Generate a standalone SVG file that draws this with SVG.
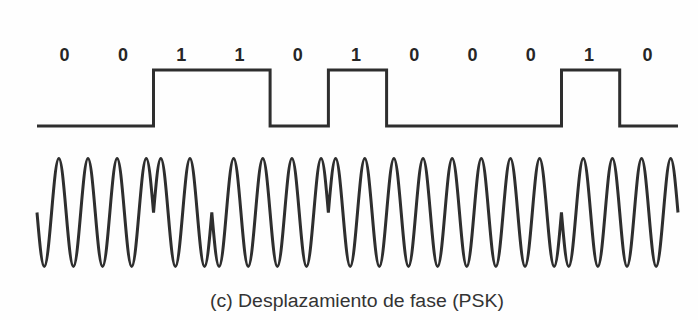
<svg xmlns="http://www.w3.org/2000/svg" width="698" height="320" viewBox="0 0 698 320">
  <style>
    .bit { font-family: "Liberation Sans", Arial, sans-serif; font-size: 18px; font-weight: bold; fill: #262626; text-anchor: middle; }
    .caption { font-family: "Liberation Sans", Arial, sans-serif; font-size: 18px; fill: #333333; }
    .trace { fill: none; stroke: #2e2e2e; stroke-linejoin: miter; stroke-linecap: butt; }
  </style>
  <rect width="698" height="320" fill="#fefefe"/>

  <!-- bit values, one per bit cell (cell width 58.27, first cell starts at x=37) -->
  <g id="bit-labels">
    <text class="bit" x="64.6" y="61">0</text>
    <text class="bit" x="122.9" y="61">0</text>
    <text class="bit" x="181.2" y="61">1</text>
    <text class="bit" x="239.5" y="61">1</text>
    <text class="bit" x="297.7" y="61">0</text>
    <text class="bit" x="356" y="61">1</text>
    <text class="bit" x="414.3" y="61">0</text>
    <text class="bit" x="472.5" y="61">0</text>
    <text class="bit" x="530.8" y="61">0</text>
    <text class="bit" x="589.1" y="61">1</text>
    <text class="bit" x="647.4" y="61">0</text>
  </g>

  <!-- binary data as a square wave -->
  <g id="data-signal">
    <path class="trace" stroke-width="3" d="M37,126 H153.5 V70 H270.1 V126 H328.4 V70 H386.6 V126 H561.5 V70 H619.7 V126 H678"/>
  </g>

  <!-- carrier: two cycles per bit, phase inverted at the start of every 1 bit.
       Each bit is four half-cycle humps built from quarter-wave cubics. -->
  <g id="psk-signal">
    <path class="trace" stroke-width="3" d="M37,212.5
      c2.375,27.66 4.648,54 7.284,54 c2.636,0 4.909,-26.34 7.284,-54 c2.375,-27.66 4.648,-54 7.284,-54 c2.636,0 4.909,26.34 7.284,54
      c2.375,27.66 4.648,54 7.284,54 c2.636,0 4.909,-26.34 7.284,-54 c2.375,-27.66 4.648,-54 7.284,-54 c2.636,0 4.909,26.34 7.284,54
      c2.375,27.66 4.648,54 7.284,54 c2.636,0 4.909,-26.34 7.284,-54 c2.375,-27.66 4.648,-54 7.284,-54 c2.636,0 4.909,26.34 7.284,54
      c2.375,27.66 4.648,54 7.284,54 c2.636,0 4.909,-26.34 7.284,-54 c2.375,-27.66 4.648,-54 7.284,-54 c2.636,0 4.909,26.34 7.284,54

      c2.375,-27.66 4.648,-54 7.284,-54 c2.636,0 4.909,26.34 7.284,54 c2.375,27.66 4.648,54 7.284,54 c2.636,0 4.909,-26.34 7.284,-54
      c2.375,-27.66 4.648,-54 7.284,-54 c2.636,0 4.909,26.34 7.284,54 c2.375,27.66 4.648,54 7.284,54 c2.636,0 4.909,-26.34 7.284,-54

      c2.375,27.66 4.648,54 7.284,54 c2.636,0 4.909,-26.34 7.284,-54 c2.375,-27.66 4.648,-54 7.284,-54 c2.636,0 4.909,26.34 7.284,54
      c2.375,27.66 4.648,54 7.284,54 c2.636,0 4.909,-26.34 7.284,-54 c2.375,-27.66 4.648,-54 7.284,-54 c2.636,0 4.909,26.34 7.284,54

      c2.375,27.66 4.648,54 7.284,54 c2.636,0 4.909,-26.34 7.284,-54 c2.375,-27.66 4.648,-54 7.284,-54 c2.636,0 4.909,26.34 7.284,54
      c2.375,27.66 4.648,54 7.284,54 c2.636,0 4.909,-26.34 7.284,-54 c2.375,-27.66 4.648,-54 7.284,-54 c2.636,0 4.909,26.34 7.284,54

      c2.375,-27.66 4.648,-54 7.284,-54 c2.636,0 4.909,26.34 7.284,54 c2.375,27.66 4.648,54 7.284,54 c2.636,0 4.909,-26.34 7.284,-54
      c2.375,-27.66 4.648,-54 7.284,-54 c2.636,0 4.909,26.34 7.284,54 c2.375,27.66 4.648,54 7.284,54 c2.636,0 4.909,-26.34 7.284,-54
      c2.375,-27.66 4.648,-54 7.284,-54 c2.636,0 4.909,26.34 7.284,54 c2.375,27.66 4.648,54 7.284,54 c2.636,0 4.909,-26.34 7.284,-54
      c2.375,-27.66 4.648,-54 7.284,-54 c2.636,0 4.909,26.34 7.284,54 c2.375,27.66 4.648,54 7.284,54 c2.636,0 4.909,-26.34 7.284,-54
      c2.375,-27.66 4.648,-54 7.284,-54 c2.636,0 4.909,26.34 7.284,54 c2.375,27.66 4.648,54 7.284,54 c2.636,0 4.909,-26.34 7.284,-54
      c2.375,-27.66 4.648,-54 7.284,-54 c2.636,0 4.909,26.34 7.284,54 c2.375,27.66 4.648,54 7.284,54 c2.636,0 4.909,-26.34 7.284,-54
      c2.375,-27.66 4.648,-54 7.284,-54 c2.636,0 4.909,26.34 7.284,54 c2.375,27.66 4.648,54 7.284,54 c2.636,0 4.909,-26.34 7.284,-54
      c2.375,-27.66 4.648,-54 7.284,-54 c2.636,0 4.909,26.34 7.284,54 c2.375,27.66 4.648,54 7.284,54 c2.636,0 4.909,-26.34 7.284,-54

      c2.375,27.66 4.648,54 7.284,54 c2.636,0 4.909,-26.34 7.284,-54 c2.375,-27.66 4.648,-54 7.284,-54 c2.636,0 4.909,26.34 7.284,54
      c2.375,27.66 4.648,54 7.284,54 c2.636,0 4.909,-26.34 7.284,-54 c2.375,-27.66 4.648,-54 7.284,-54 c2.636,0 4.909,26.34 7.284,54
      c2.375,27.66 4.648,54 7.284,54 c2.636,0 4.909,-26.34 7.284,-54 c2.375,-27.66 4.648,-54 7.284,-54 c2.636,0 4.909,26.34 7.284,54
      c2.375,27.66 4.648,54 7.284,54 c2.636,0 4.909,-26.34 7.284,-54 c2.375,-27.66 4.648,-54 7.284,-54 c2.636,0 4.909,26.34 7.284,54"/>
  </g>

  <g id="caption">
    <text class="caption" x="210" y="307" textLength="294" lengthAdjust="spacingAndGlyphs">(c) Desplazamiento de fase (PSK)</text>
  </g>
</svg>
